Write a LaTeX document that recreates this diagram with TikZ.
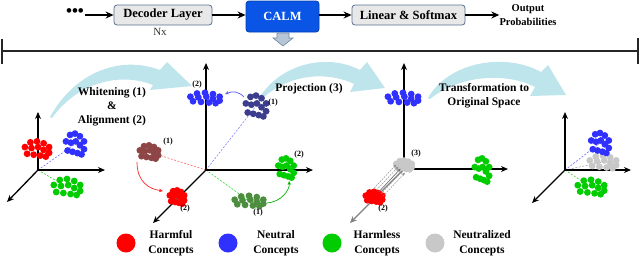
\documentclass[tikz,border=0pt]{standalone}
\usepackage{fontspec}
\setmainfont{Liberation Serif}
\usetikzlibrary{arrows.meta}
\definecolor{cred}{HTML}{FF0000}
\definecolor{cblue}{HTML}{3030FF}
\definecolor{cgreen}{HTML}{00CC00}
\definecolor{cgray}{HTML}{C8C8C8}
\definecolor{cnavy}{HTML}{3D3D8F}
\definecolor{cbrown}{HTML}{8E4545}
\definecolor{cdkgreen}{HTML}{4C8E3E}
\definecolor{swc}{HTML}{BFE5EC}
\definecolor{boxfill}{HTML}{E8E8E8}
\definecolor{boxline}{HTML}{5A7090}
\definecolor{calmfill}{HTML}{0A55E6}
\definecolor{calmline}{HTML}{0040B0}
\definecolor{dafill}{HTML}{B6C6D6}
\definecolor{daline}{HTML}{7088A0}
\definecolor{curvblue}{HTML}{5A5AEB}
\newcommand\dotclust[4]{%
  \foreach \dx/\dy in {-11/-2,-6/-7,0/-8,6/-6,11/-2,-5/-1,1/-2,6/1,11/4,-9/5,-3/6,3/7,8/8}
    {\fill[#2] ([shift={({\dx*#3},{\dy*#4})}]#1) circle (3.4pt);}%
}
\begin{document}
\begin{tikzpicture}[x=1pt,y=-1pt,
  boxst/.style={draw=boxline, fill=boxfill, line width=0.8pt, rounded corners=3pt,
    font=\bfseries\fontsize{12.5}{15}\selectfont, inner sep=0pt},
  calmst/.style={draw=calmline, fill=calmfill, line width=0.8pt, rounded corners=3pt,
    text=white, font=\bfseries\fontsize{12.5}{15}\selectfont, inner sep=0pt},
  flow/.style={line width=1.2pt, -{Stealth[length=8pt,width=7pt]}},
  axis/.style={line width=1.3pt, -{Stealth[length=7pt,width=6pt]}},
  lbl/.style={font=\bfseries\fontsize{11.5}{14}\selectfont, align=center, inner sep=0pt},
  leg/.style={font=\bfseries\fontsize{11.5}{15}\selectfont, align=center, inner sep=0pt},
  num/.style={font=\bfseries\fontsize{8}{9}\selectfont, inner sep=0pt},
  dsh/.style={line width=0.6pt, dash pattern=on 2pt off 1.5pt},
  curv/.style={line width=0.7pt, -{Stealth[length=4pt,width=3.5pt]}},
  proj/.style={line width=0.5pt, draw=gray!90, dash pattern=on 1.6pt off 1.2pt,
    -{Stealth[length=3.5pt,width=3pt]}},
  swoosh/.style={fill=swc}
]
\useasboundingbox (0,0) rectangle (640,258);

% ---- top pipeline ----
\node[font=\bfseries\fontsize{17}{18}\selectfont, inner sep=0.5pt] (dots) at (75,13) {•••};
\node[boxst, minimum width=98pt, minimum height=20pt] (dec) at (163,15) {Decoder Layer};
\node[font=\fontsize{11}{13}\selectfont, text=black!80, inner sep=0pt] (nx) at (160,32) {Nx};
\node[calmst, minimum width=73pt, minimum height=31pt] (calm) at (282.5,16.5) {CALM};
\node[boxst, minimum width=113pt, minimum height=20pt] (lin) at (408.5,15) {Linear \& Softmax};
\node[font=\bfseries\fontsize{10.5}{14}\selectfont, align=center, inner sep=0pt] (out) at (528,15) {Output\\Probabilities};
\draw[flow] (dots.east |- dec) -- (dec);
\draw[flow] (dec) -- (calm.west |- dec);
\draw[flow] (calm.east |- lin) -- (lin);
\draw[flow] (lin) -- (out);
\filldraw[fill=dafill, draw=daline, line width=0.6pt]
  (277,33) -- (289,33) -- (289,38) -- (293,38) -- (283,46) -- (273,38) -- (277,38) -- cycle;

% separator
\coordinate (sepL) at (2,51);
\coordinate (sepR) at (638,51);
\draw[line width=1.5pt, black!85] (sepL) -- (sepR);
\draw[line width=1.5pt, black!85] (2,39) -- (2,64);
\draw[line width=1.5pt, black!85] (638,38) -- (638,64);

% ---- swooshes ----
\fill[swoosh] (50,117) .. controls (75,72) and (120,55) .. (160,70) -- (167,62) -- (192,86) -- (150,90) -- (153,85)
  .. controls (120,72) and (78,82) .. (52,118) -- cycle;
\fill[swoosh] (258,100) .. controls (278,65) and (325,52) .. (360,70) -- (367,62) -- (385,88) -- (350,92) -- (354,84)
  .. controls (325,70) and (285,75) .. (260,101) -- cycle;
\fill[swoosh] (428,98) .. controls (448,62) and (505,52) .. (541,72) -- (548,65) -- (566,95) -- (530,96) -- (535,87)
  .. controls (505,72) and (460,75) .. (430,99) -- cycle;

\node[lbl] (wa) at (112,107) {Whitening (1)\\\&\\Alignment (2)};
\node[lbl] (pj) at (309,89) {Projection (3)};
\node[lbl] (tr) at (484,96) {Transformation to\\Original Space};

% ---- panel 1 ----
\coordinate (O1) at (38,170);
\coordinate (u1) at (38,112);
\coordinate (r1) at (105,170);
\coordinate (d1) at (7,202);
\coordinate (red1) at (37,149);
\coordinate (blue1) at (75,144);
\coordinate (green1) at (67,187);
\draw[dsh, draw=cred!70] (O1) -- (red1);
\draw[dsh, draw=cblue!70] (O1) -- (blue1);
\draw[dsh, draw=cgreen!80] (O1) -- (green1);
\draw[axis] (O1) -- (u1);
\draw[axis] (O1) -- (r1);
\draw[axis] (O1) -- (d1);
\dotclust{red1}{cred}{1.1}{0.95}
\dotclust{blue1}{cblue}{0.82}{1.3}
\dotclust{green1}{cgreen}{1.2}{1.0}

% ---- panel 2 ----
\coordinate (O2) at (206,170);
\coordinate (u2) at (206,63);
\coordinate (r2) at (313,170);
\coordinate (d2) at (153,223);
\coordinate (blue2) at (205,98);
\coordinate (navy2) at (256,106);
\coordinate (brown2) at (149,152);
\coordinate (red2) at (177,197);
\coordinate (dkg2) at (249,201);
\coordinate (green2) at (286,168);
\draw[dsh, draw=cred!60] (O2) -- (brown2);
\draw[dsh, draw=cblue!60] (O2) -- (navy2);
\draw[dsh, draw=cgreen!80] (O2) -- (dkg2);
\draw[axis] (O2) -- (u2);
\draw[axis] (O2) -- (r2);
\draw[axis] (O2) -- (d2);
\dotclust{blue2}{cblue}{1.33}{0.65}
\dotclust{navy2}{cnavy}{0.92}{1.3}
\dotclust{brown2}{cbrown}{0.83}{0.83}
\dotclust{red2}{cred}{0.65}{0.83}
\dotclust{dkg2}{cdkgreen}{1.3}{0.65}
\dotclust{green2}{cgreen}{0.7}{1.2}
\coordinate (navyA) at (244,97);
\coordinate (blueA) at (225,94);
\coordinate (brownA) at (137,162);
\coordinate (redA) at (163,191);
\coordinate (dkgA) at (267,203);
\coordinate (greenA) at (289,181);
\draw[curv, draw=curvblue] (navyA) .. controls +(-6,-6) and +(8,-3) .. (blueA);
\draw[curv, draw=cred!85] (brownA) .. controls +(0,20) and +(-14,-2) .. (redA);
\draw[curv, draw=cgreen!90!black] (dkgA) .. controls +(14,-1) and +(1,9) .. (greenA);
\node[num] (n2a) at (197,85) {(2)};
\node[num] (n1a) at (273,103) {(1)};
\node[num] (n1b) at (168,142) {(1)};
\node[num] (n2b) at (185,209) {(2)};
\node[num] (n1c) at (258,213) {(1)};
\node[num] (n2c) at (299,155) {(2)};

% ---- panel 3 ----
\coordinate (O3) at (404,169);
\coordinate (u3) at (404,63);
\coordinate (r3) at (508,169);
\coordinate (d3) at (350,223);
\coordinate (blue3) at (403,98);
\coordinate (gray3) at (404,165);
\coordinate (red3) at (374,197);
\coordinate (green3) at (482,170);
\draw[axis] (O3) -- (u3);
\draw[axis] (O3) -- (r3);
\draw[axis, draw=black!50] (O3) -- (d3);
\dotclust{blue3}{cblue}{1.37}{0.65}
\dotclust{gray3}{cgray}{0.7}{0.55}
\dotclust{red3}{cred}{0.75}{0.65}
\dotclust{green3}{cgreen}{0.65}{1.45}
\foreach \s in {-6,-3,3,6}
  {\draw[proj, shorten <=7pt, shorten >=5pt] ([shift={({0.73*\s},{0.68*\s})}]red3) -- ([shift={({0.73*\s},{0.68*\s})}]gray3);}
\draw[line width=0.7pt, draw=black!55, -{Stealth[length=3.5pt,width=3pt]}, shorten <=7pt, shorten >=5pt] (red3) -- (gray3);
\node[num] (n3) at (416,154) {(3)};
\node[num] (n2d) at (383,209) {(2)};

% ---- panel 4 ----
\coordinate (O4) at (565,170);
\coordinate (u4) at (565,112);
\coordinate (r4) at (631,170);
\coordinate (d4) at (532,203);
\coordinate (blue4) at (600,143);
\coordinate (gray4) at (603,162);
\coordinate (green4) at (591,187);
\draw[dsh, draw=cblue!70] (O4) -- (blue4);
\draw[dsh, draw=black!35] (O4) -- (gray4);
\draw[dsh, draw=cgreen!80] (O4) -- (green4);
\draw[axis] (O4) -- (u4);
\draw[axis] (O4) -- (r4);
\draw[axis] (O4) -- (d4);
\dotclust{gray4}{cgray}{1.2}{0.78}
\dotclust{blue4}{cblue}{0.8}{1.25}
\dotclust{green4}{cgreen}{1.2}{0.9}

% ---- legend ----
\fill[cred] (126,243) circle (9.5pt);
\fill[cblue] (228,243) circle (9.5pt);
\fill[cgreen] (332,243) circle (9.5pt);
\fill[cgray] (435,243) circle (9.5pt);
\node[leg] (lh) at (171,243.5) {Harmful\\Concepts};
\node[leg] (ln) at (276,243.5) {Neutral\\Concepts};
\node[leg] (lhl) at (377,243.5) {Harmless\\Concepts};
\node[leg] (lnz) at (482,243.5) {Neutralized\\Concepts};
\end{tikzpicture}
\end{document}
